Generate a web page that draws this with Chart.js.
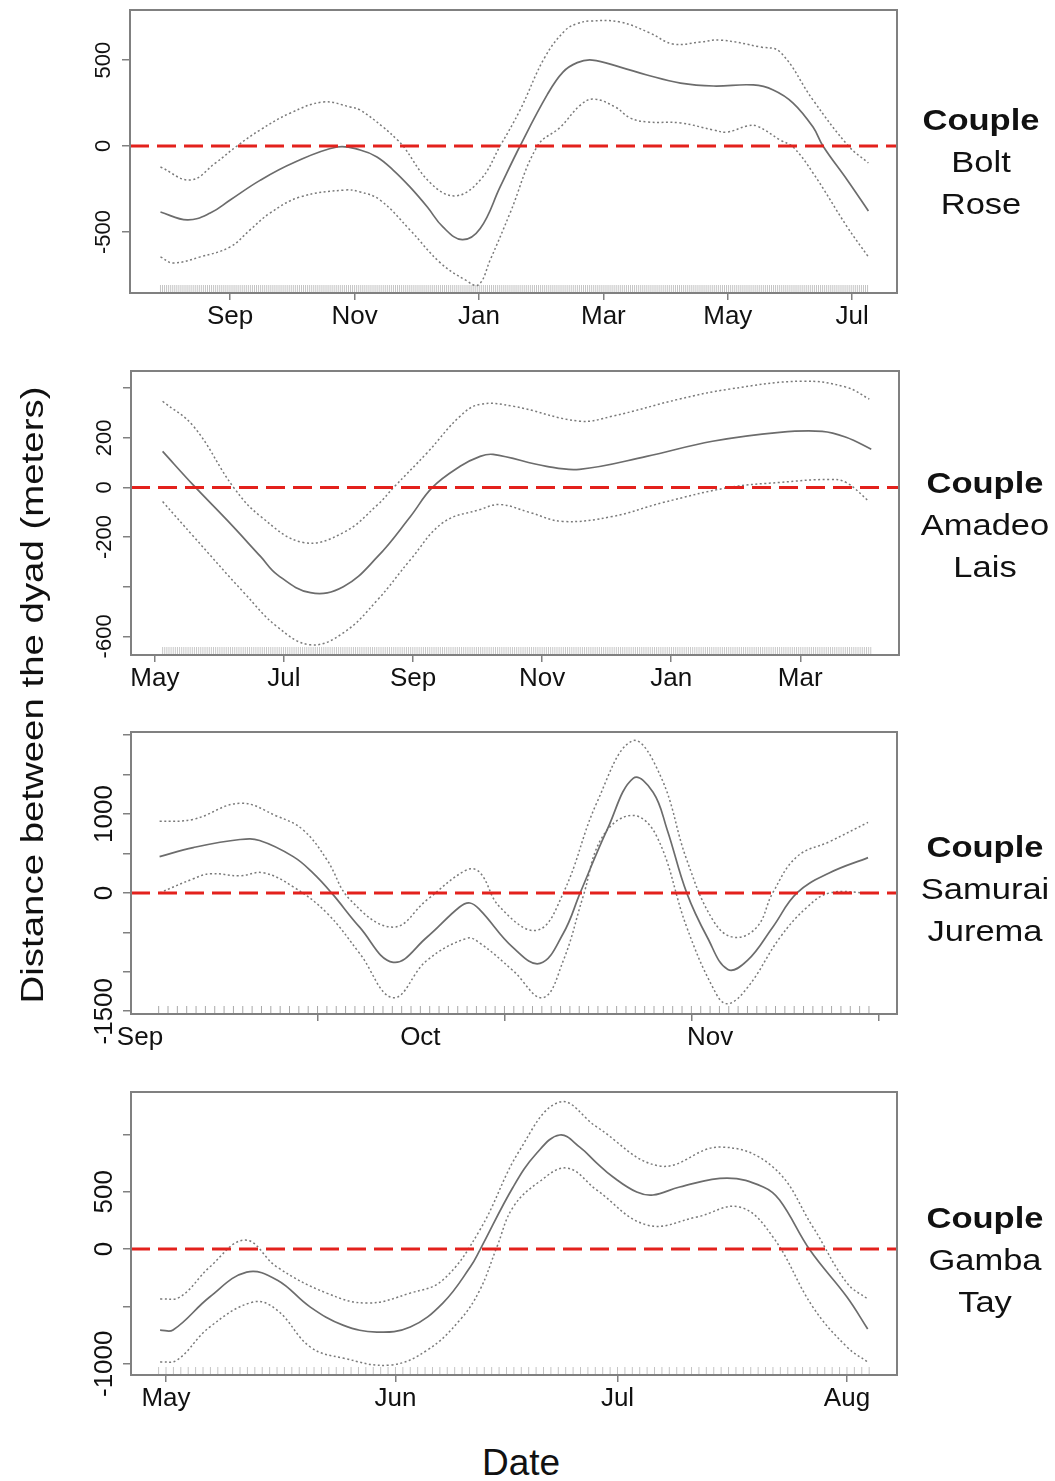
<!DOCTYPE html>
<html>
<head>
<meta charset="utf-8">
<script src="https://cdn.jsdelivr.net/npm/chart.js@4.4.1/dist/chart.umd.min.js"></script>
<style>
  body { margin: 0; background: #fff; }
  #page { position: relative; width: 1055px; height: 1481px; overflow: hidden; font-family: "Liberation Sans", Arial, sans-serif; color: #111; }
  canvas { position: absolute; left: 0; }
  .couple { position: absolute; width: 160px; text-align: center; font-size: 30px; line-height: 42px; transform: scaleX(1.15); }
  #ytitle { position: absolute; left: -318px; top: 675px; width: 700px; height: 40px; line-height: 40px; text-align: center; font-size: 32px; transform: rotate(-90deg) scaleX(1.2); }
  #xtitle { position: absolute; left: 421px; top: 1440px; width: 200px; text-align: center; font-size: 37px; line-height: 46px; }
</style>
</head>
<body>
<div id="page">
  <canvas id="c1"></canvas>
  <canvas id="c2"></canvas>
  <canvas id="c3"></canvas>
  <canvas id="c4"></canvas>
  <div class="couple" style="left:901px; top:99px;"><b>Couple</b><br>Bolt<br>Rose</div>
  <div class="couple" style="left:905px; top:462px;"><b>Couple</b><br>Amadeo<br>Lais</div>
  <div class="couple" style="left:905px; top:826px;"><b>Couple</b><br>Samurai<br>Jurema</div>
  <div class="couple" style="left:905px; top:1197px;"><b>Couple</b><br>Gamba<br>Tay</div>
  <div id="ytitle">Distance between the dyad (meters)</div>
  <div id="xtitle">Date</div>
</div>
<script>
// ---- Panel 1: Bolt / Rose (x = month number, Jan of first year = 0) ----
const p1Ticks = [8, 10, 12, 14, 16, 18];
const p1TickLabels = ['Sep', 'Nov', 'Jan', 'Mar', 'May', 'Jul'];
const p1YTicks = [-500, 0, 500];
const p1YLabels = [-500, 0, 500];
const p1MeanX = [6.88, 7.31, 7.68, 8.00, 8.48, 9.01, 9.72, 10.09, 10.36, 10.62, 10.89, 11.17, 11.42, 11.73, 12.02, 12.34, 12.66, 13.10, 13.35, 13.58, 13.82, 14.27, 14.70, 15.24, 15.77, 16.41, 16.73, 17.05, 17.37, 17.53, 17.92, 18.26];
const p1Mean = [-384, -430, -390, -314, -200, -99, -6, -23, -64, -140, -238, -355, -471, -545, -480, -238, 0, 300, 430, 485, 500, 459, 413, 366, 349, 355, 326, 250, 110, 0, -198, -378];
const p1UpX = [6.88, 7.36, 7.76, 8.11, 8.48, 8.97, 9.50, 9.93, 10.09, 10.46, 10.69, 10.78, 11.22, 11.62, 12.02, 12.34, 12.66, 13.06, 13.39, 13.58, 13.79, 14.27, 14.75, 15.12, 15.56, 15.88, 16.52, 16.84, 17.37, 17.94, 18.26];
const p1Up = [-122, -198, -100, 0, 93, 192, 256, 227, 209, 110, 35, 0, -215, -290, -198, 0, 209, 517, 674, 712, 727, 721, 657, 593, 605, 616, 576, 547, 267, 0, -99];
const p1LoX = [6.88, 7.08, 7.52, 8.00, 8.32, 8.64, 9.13, 9.85, 10.09, 10.41, 10.89, 11.38, 11.78, 11.99, 12.18, 12.50, 12.94, 13.31, 13.63, 13.84, 14.19, 14.43, 14.70, 15.24, 15.77, 15.99, 16.31, 16.47, 16.84, 17.05, 17.37, 17.92, 18.26];
const p1Lo = [-645, -680, -645, -587, -488, -390, -296, -256, -267, -314, -488, -680, -779, -808, -663, -390, 0, 110, 238, 273, 227, 163, 140, 134, 93, 81, 116, 116, 35, -6, -157, -471, -645];

// ---- Panel 2: Amadeo / Lais (x = month number, Jan = 0) ----
const p2Ticks = [4, 6, 8, 10, 12, 14];
const p2TickLabels = ['May', 'Jul', 'Sep', 'Nov', 'Jan', 'Mar'];
const p2YTicks = [-600, -400, -200, 0, 200, 400];
const p2YLabels = [-600, -200, 0, 200];
const p2MeanX = [4.12, 4.60, 5.13, 5.64, 5.90, 6.41, 6.92, 7.45, 7.96, 8.30, 8.73, 9.04, 9.24, 10.07, 10.58, 11.62, 12.64, 13.68, 14.34, 14.71, 15.10];
const p2Mean = [145, 8, -135, -279, -352, -424, -400, -279, -117, 0, 85, 125, 133, 85, 73, 125, 186, 222, 226, 202, 154];
const p2UpX = [4.12, 4.60, 5.22, 5.64, 6.30, 6.92, 7.45, 7.70, 8.22, 8.73, 9.04, 9.55, 10.58, 11.09, 12.13, 12.90, 14.03, 14.71, 15.07];
const p2Up = [347, 246, 0, -117, -222, -182, -70, 0, 140, 287, 335, 327, 267, 287, 356, 396, 428, 404, 356];
const p2LoX = [4.12, 4.60, 5.38, 5.90, 6.41, 6.92, 7.45, 7.96, 8.47, 9.04, 9.35, 9.81, 10.32, 11.09, 11.87, 12.90, 13.68, 14.45, 14.71, 15.07];
const p2Lo = [-57, -198, -424, -562, -634, -586, -453, -291, -141, -89, -69, -101, -137, -117, -61, 0, 20, 32, 20, -57];

// ---- Panel 3: Samurai / Jurema (x = days from 1 Sep) ----
const p3Ticks = [0, 19, 30, 39, 59, 61, 79];
const p3TickLabels = ['Sep', '', 'Oct', '', '', 'Nov', ''];
const p3YTicks = [-1500, -1000, -500, 0, 500, 1000, 1500, 2000];
const p3YLabels = [-1500, 0, 1000];
const p3MeanX = [2.1, 5.7, 10.7, 12.8, 16.4, 18.5, 20.5, 23.5, 27.1, 30.7, 34.2, 35.3, 36.4, 39.9, 42.8, 45.3, 47.1, 50.0, 52.8, 54.9, 56.4, 58.5, 60.7, 62.9, 65.0, 67.7, 70.3, 73.8, 77.9];
const p3Mean = [460, 575, 677, 664, 460, 255, 0, -434, -880, -562, -179, -128, -217, -690, -894, -511, 0, 805, 1456, 1277, 805, 0, -562, -971, -856, -434, 0, 255, 447];
const p3UpX = [2.1, 5.7, 10.7, 14.7, 17.4, 20.0, 22.5, 27.1, 30.7, 35.0, 36.4, 38.5, 42.5, 45.3, 48.9, 52.7, 55.7, 58.5, 61.3, 63.5, 66.0, 67.7, 70.3, 73.8, 77.9];
const p3Up = [907, 932, 1137, 971, 805, 421, -89, -434, -89, 294, 255, -179, -473, 0, 1149, 1928, 1481, 421, -345, -562, -434, 0, 460, 651, 894];
const p3LoX = [2.1, 5.7, 7.5, 10.7, 13.2, 16.4, 20.0, 23.5, 27.1, 30.7, 35.0, 36.4, 39.9, 43.1, 45.3, 47.4, 49.5, 52.7, 55.3, 58.5, 61.3, 62.8, 65.0, 68.5, 71.4, 73.8, 77.9];
const p3Lo = [0, 179, 243, 217, 255, 77, -255, -766, -1328, -856, -575, -639, -983, -1328, -856, -51, 715, 983, 715, -434, -1200, -1405, -1200, -562, -179, 0, 0];

// ---- Panel 4: Gamba / Tay (x = days from 1 May) ----
const p4Ticks = [0, 31, 61, 92];
const p4TickLabels = ['May', 'Jun', 'Jul', 'Aug'];
const p4YTicks = [-1000, -500, 0, 500, 1000];
const p4YLabels = [-1000, 0, 500];
const p4MeanX = [-0.8, 0.95, 5.9, 10.9, 15.0, 19.5, 23.9, 28.5, 33.0, 37.4, 41.1, 42.4, 46.9, 50.1, 53.2, 55.9, 58.2, 60.4, 63.6, 65.8, 69.4, 75.8, 80.7, 82.9, 87.0, 92.0, 94.8];
const p4Mean = [-706, -706, -418, -201, -270, -506, -663, -724, -680, -471, -157, -9, 541, 837, 994, 889, 750, 628, 497, 471, 541, 619, 541, 427, -9, -418, -697];
const p4UpX = [-0.8, 1.9, 5.9, 10.7, 15.0, 21.7, 27.2, 33.0, 37.4, 42.4, 47.8, 53.2, 58.2, 66.7, 74.8, 82.0, 87.4, 92.0, 94.8];
const p4Up = [-436, -418, -157, 78, -157, -384, -471, -384, -270, 166, 863, 1282, 1064, 724, 889, 715, 192, -296, -436];
const p4LoX = [-0.8, 1.5, 5.9, 11.8, 15.0, 19.5, 23.9, 30.3, 35.3, 39.7, 42.4, 44.7, 46.9, 50.5, 54.2, 58.2, 65.0, 71.7, 77.5, 82.0, 87.4, 92.0, 94.8];
const p4Lo = [-985, -968, -680, -462, -532, -854, -950, -1011, -881, -619, -357, 17, 366, 590, 706, 514, 209, 279, 366, 105, -506, -854, -985];

const GRAY = '#808080';
Chart.defaults.font.family = '"Liberation Sans", Arial, sans-serif';

function pts(xs, ys) {
  return xs.map((x, i) => ({ x: x, y: ys[i] }));
}

// box around the plot + rotated y labels (R style)
const framePlugin = {
  id: 'frame',
  afterDraw(chart, args, opts) {
    const { ctx, chartArea: a } = chart;
    const ys = chart.scales.y;
    ctx.save();
    ctx.strokeStyle = GRAY;
    ctx.lineWidth = 2;
    ctx.strokeRect(a.left, a.top, a.right - a.left, a.bottom - a.top);
    ctx.fillStyle = '#111';
    ctx.font = opts.font;
    ctx.textAlign = 'center';
    ctx.textBaseline = 'middle';
    opts.labels.forEach(v => {
      ctx.save();
      ctx.translate(a.left - 26, ys.getPixelForValue(v));
      ctx.rotate(-Math.PI / 2);
      ctx.fillText(String(v), 0, 0);
      ctx.restore();
    });
    ctx.restore();
  }
};

function makePanel(o) {
  const canvas = document.getElementById(o.id);
  canvas.width = 1055;
  canvas.height = o.box.bottom - o.top + 45;
  canvas.style.top = o.top + 'px';

  // rug of observation dates along the bottom
  const rug = [];
  for (let d = o.rug[0]; d <= o.rug[1] + 1e-9; d += o.rug[2]) rug.push({ x: d, y: o.yMin });

  new Chart(canvas, {
    type: 'line',
    data: {
      datasets: [
        { data: [{ x: o.xMin, y: 0 }, { x: o.xMax, y: 0 }], borderColor: '#e3211c', borderWidth: 3, borderDash: [19, 8], pointRadius: 0 },
        { data: pts(o.meanX, o.mean), borderColor: '#6c6c6c', borderWidth: 1.7, pointRadius: 0, tension: 0.4 },
        { data: pts(o.upX, o.up), borderColor: '#7a7a7a', borderWidth: 1.5, borderDash: [2, 2.5], pointRadius: 0, tension: 0.4 },
        { data: pts(o.loX, o.lo), borderColor: '#7a7a7a', borderWidth: 1.5, borderDash: [2, 2.5], pointRadius: 0, tension: 0.4 },
        { data: rug, showLine: false, pointStyle: 'line', pointRotation: 90, pointRadius: 8, pointBorderColor: o.rugColor, pointBorderWidth: 1, clip: 0 }
      ]
    },
    options: {
      responsive: false,
      animation: false,
      events: [],
      layout: { padding: { left: o.box.left - 10, right: 1055 - o.box.right, top: o.box.top - o.top, bottom: 0 } },
      plugins: {
        legend: { display: false },
        tooltip: { enabled: false },
        frame: { labels: o.yLabels, font: o.yFont }
      },
      scales: {
        x: {
          type: 'linear', min: o.xMin, max: o.xMax,
          afterBuildTicks: s => { s.ticks = o.xTicks.map(v => ({ value: v })); },
          afterFit: s => { s.height = 45; },
          border: { display: false },
          grid: {
            drawOnChartArea: false, tickLength: 7, lineWidth: 1.5, color: GRAY,
            tickColor: c => (o.xLabels[c.index] === '' || !o.splitMarks) ? GRAY : 'rgba(0,0,0,0)'
          },
          ticks: {
            autoSkip: false, maxRotation: 0, padding: 1, color: '#111',
            font: { size: 26 },
            callback: (v, i) => o.xLabels[i]
          }
        },
        y: {
          type: 'linear', min: o.yMin, max: o.yMax,
          afterBuildTicks: s => { s.ticks = o.yTicks.map(v => ({ value: v })); },
          afterFit: s => { s.width = 10; },
          border: { display: false },
          grid: { drawOnChartArea: false, tickLength: 8, lineWidth: 1.5, color: GRAY },
          ticks: { display: false }
        }
      }
    },
    plugins: [framePlugin]
  });
}

makePanel({
  id: 'c1', top: 0, box: { left: 130, right: 897, top: 10, bottom: 293 },
  xMin: 6.39, xMax: 18.72, yMin: -855, yMax: 791,
  xTicks: p1Ticks, xLabels: p1TickLabels, yTicks: p1YTicks, yLabels: p1YLabels, yFont: '22px "Liberation Sans"',
  meanX: p1MeanX, mean: p1Mean, upX: p1UpX, up: p1Up, loX: p1LoX, lo: p1Lo,
  rug: [6.88, 18.26, 1 / 30.44], rugColor: '#c4c4c4'
});
makePanel({
  id: 'c2', top: 361, box: { left: 131, right: 899, top: 371, bottom: 655 },
  xMin: 3.63, xMax: 15.53, yMin: -675, yMax: 469,
  xTicks: p2Ticks, xLabels: p2TickLabels, yTicks: p2YTicks, yLabels: p2YLabels, yFont: '22px "Liberation Sans"',
  meanX: p2MeanX, mean: p2Mean, upX: p2UpX, up: p2Up, loX: p2LoX, lo: p2Lo,
  rug: [4.12, 15.10, 1 / 30.44], rugColor: '#c8c8c8'
});
makePanel({
  id: 'c3', top: 722, box: { left: 131, right: 897, top: 732, bottom: 1014 },
  xMin: -0.96, xMax: 81.0, yMin: -1535, yMax: 2040,
  xTicks: p3Ticks, xLabels: p3TickLabels, yTicks: p3YTicks, yLabels: p3YLabels, yFont: '26px "Liberation Sans"',
  meanX: p3MeanX, mean: p3Mean, upX: p3UpX, up: p3Up, loX: p3LoX, lo: p3Lo,
  rug: [2, 78, 1], rugColor: '#a8a8a8', splitMarks: true
});
makePanel({
  id: 'c4', top: 1082, box: { left: 131, right: 897, top: 1092, bottom: 1375 },
  xMin: -4.73, xMax: 98.76, yMin: -1098, yMax: 1369,
  xTicks: p4Ticks, xLabels: p4TickLabels, yTicks: p4YTicks, yLabels: p4YLabels, yFont: '26px "Liberation Sans"',
  meanX: p4MeanX, mean: p4Mean, upX: p4UpX, up: p4Up, loX: p4LoX, lo: p4Lo,
  rug: [-1, 95, 1], rugColor: '#c4c4c4'
});
</script>
</body>
</html>
